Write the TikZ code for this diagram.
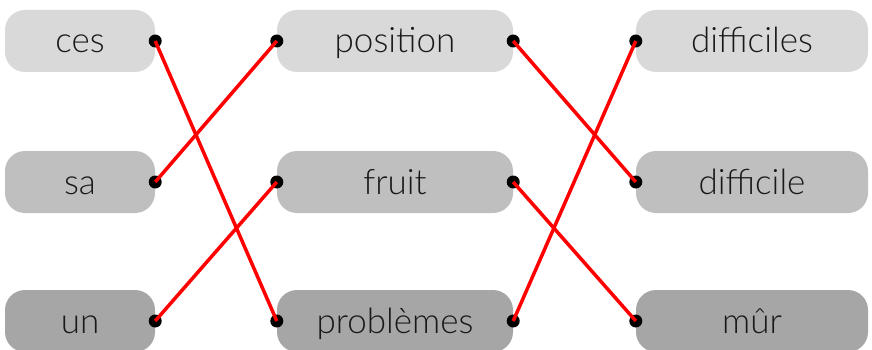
\documentclass[tikz,border=0pt]{standalone}
\usepackage{fontspec}
\setmainfont{Lato Light}
\begin{document}
\begin{tikzpicture}[x=1pt,y=-1pt,
  word/.style={rounded corners=20pt, minimum height=62pt, inner sep=0pt, text height=24pt, text depth=0pt, font=\fontsize{35}{40}\selectfont, text=black!90},
  rowa/.style={word, fill={rgb,255:red,217;green,217;blue,217}},
  rowb/.style={word, fill={rgb,255:red,191;green,191;blue,191}},
  rowc/.style={word, fill={rgb,255:red,166;green,166;blue,166}},
  cola/.style={minimum width=150pt},
  colb/.style={minimum width=236pt},
  colc/.style={minimum width=232pt},
  link/.style={draw=red, line width=3.5pt},
  dot/.style={circle, fill=black, inner sep=0pt, minimum size=13pt}]
\useasboundingbox (0,0) rectangle (872,350);
\clip (0,0) rectangle (872,350);
\node[rowa,cola] (ces) at (80,41) {ces};
\node[rowb,cola] (sa) at (80,182) {sa};
\node[rowc,cola] (un) at (80,321) {un};
\node[rowa,colb] (pos) at (395,41) {position};
\node[rowb,colb] (fru) at (395,182) {fruit};
\node[rowc,colb] (pro) at (395,321) {problèmes};
\node[rowa,colc] (dfs) at (752,41) {difficiles};
\node[rowb,colc] (dif) at (752,182) {difficile};
\node[rowc,colc] (mur) at (752,321) {mûr};
\foreach \n in {ces,sa,un} {\node[dot] (\n-d) at (\n.east) {};}
\foreach \n in {pos,fru,pro} {\node[dot] (\n-dw) at (\n.west) {}; \node[dot] (\n-de) at (\n.east) {};}
\foreach \n in {dfs,dif,mur} {\node[dot] (\n-d) at (\n.west) {};}
\draw[link] (ces.east) -- (pro.west);
\draw[link] (sa.east) -- (pos.west);
\draw[link] (un.east) -- (fru.west);
\draw[link] (pos.east) -- (dif.west);
\draw[link] (fru.east) -- (mur.west);
\draw[link] (pro.east) -- (dfs.west);
\end{tikzpicture}
\end{document}
